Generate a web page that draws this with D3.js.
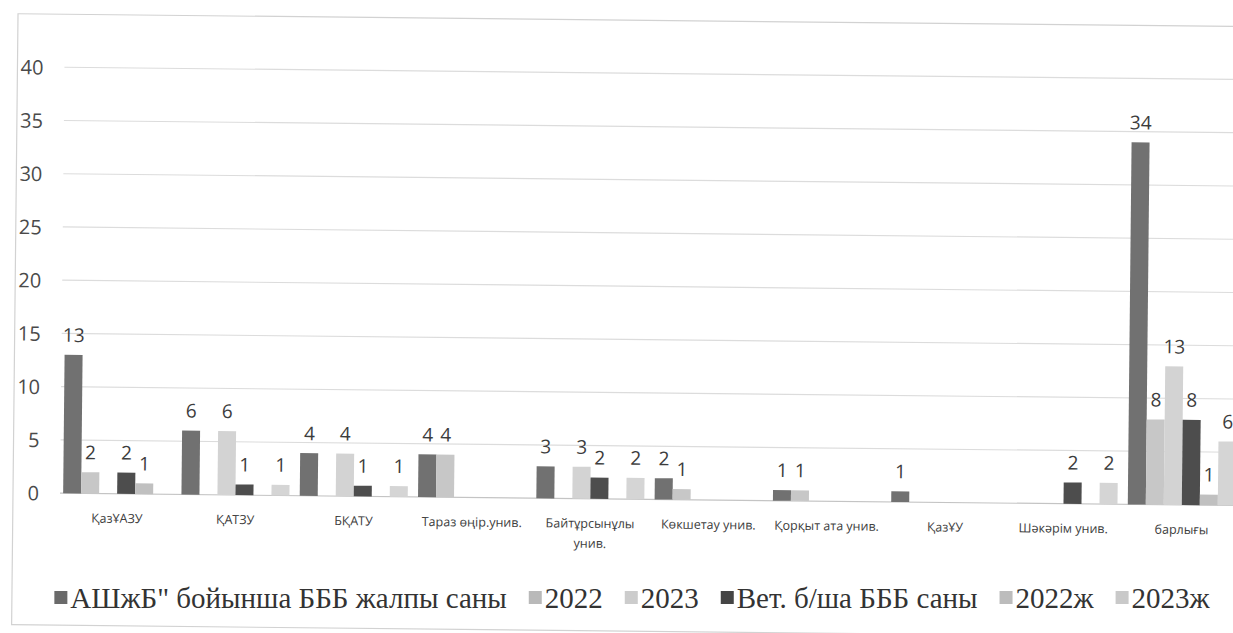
<!DOCTYPE html>
<html>
<head>
<meta charset="utf-8">
<script src="https://cdn.jsdelivr.net/npm/d3@7"></script>
<style>
  html, body { margin: 0; padding: 0; background: #ffffff; }
  svg { display: block; }
  .legend-text { font-family: "Liberation Serif", "Times New Roman", Times, "DejaVu Serif", serif; font-size: 29px; }
</style>
</head>
<body>
<svg id="chart" width="1233" height="633"></svg>
<script>
// ---- data ----
const categories = ["ҚазҰАЗУ", "ҚАТЗУ", "БҚАТУ", "Тараз өңір.унив.", "Байтұрсынұлы унив.",
  "Көкшетау унив.", "Қорқыт ата унив.", "ҚазҰУ", "Шәкәрім унив.", "барлығы"];
const seriesNames = ["АШжБ\" бойынша БББ жалпы саны", "2022", "2023", "Вет. б/ша БББ саны", "2022ж", "2023ж"];
const totalAll   = [13, 6, 4, 4, 3, 2, 1, 1, 0, 34];
const y2022      = [2, 0, 0, 4, 0, 1, 1, 0, 0, 8];
const y2023      = [0, 6, 4, 0, 3, 0, 0, 0, 0, 13];
const vetTotal   = [2, 1, 1, 0, 2, 0, 0, 0, 2, 8];
const vet2022    = [1, 0, 0, 0, 0, 0, 0, 0, 0, 1];
const vet2023    = [0, 1, 1, 0, 2, 0, 0, 0, 2, 6];
const yTicks     = [0, 5, 10, 15, 20, 25, 30, 35, 40];

const seriesValues = [totalAll, y2022, y2023, vetTotal, vet2022, vet2023];
const colors = ["#717171", "#c7c7c7", "#d3d3d3", "#4d4d4d", "#c0c0c0", "#d5d5d5"];
const legendColors = ["#6a6a6a", "#b9b9b9", "#cccccc", "#454545", "#bcbcbc", "#c9c9c9"];

// ---- layout ----
const svg = d3.select("#chart");
const W = 1233, H = 633;
svg.append("rect").attr("width", W).attr("height", H).attr("fill", "#ffffff");

const plot = svg.append("g").attr("transform", "rotate(0.6, 40, 493)");

// chart frame
plot.append("rect")
  .attr("x", 13).attr("y", 14).attr("width", 1250).attr("height", 611)
  .attr("fill", "none").attr("stroke", "#d2d2d2").attr("stroke-width", 1.2);

const x0 = d3.scaleBand().domain(categories).range([58, 1241])
  .paddingInner(0.087).paddingOuter(0.0435);
const x1 = d3.scaleBand().domain(d3.range(seriesNames.length)).range([0, x0.bandwidth()]);
const y = d3.scaleLinear().domain([0, 40]).range([493, 67]);

// gridlines
plot.append("g").selectAll("line").data(yTicks).join("line")
  .attr("x1", 60).attr("x2", 1260)
  .attr("y1", d => y(d)).attr("y2", d => y(d))
  .attr("stroke", d => d === 0 ? "#c4c4c4" : "#dcdcdc")
  .attr("stroke-width", 1.2);

// y axis labels
const yAxis = d3.axisLeft(y).tickValues(yTicks).tickSize(0).tickPadding(0);
const gy = plot.append("g").attr("transform", "translate(39,0)").call(yAxis);
gy.select(".domain").remove();
gy.selectAll("text")
  .attr("font-family", "'Open Sans', sans-serif")
  .attr("font-size", 20)
  .attr("fill", "#4a4a4a")
  .attr("dy", "0.35em");

// bars
const groups = plot.append("g").selectAll("g").data(categories).join("g")
  .attr("transform", d => `translate(${x0(d)},0)`);

groups.selectAll("rect")
  .data((c, ci) => seriesValues.map((vals, si) => ({ si, v: vals[ci] })))
  .join("rect")
  .attr("x", d => x1(d.si))
  .attr("width", x1.bandwidth())
  .attr("y", d => y(d.v))
  .attr("height", d => y(0) - y(d.v))
  .attr("fill", d => colors[d.si]);

groups.selectAll("text.lbl")
  .data((c, ci) => seriesValues.map((vals, si) => ({ si, v: vals[ci] })).filter(d => d.v > 0))
  .join("text")
  .attr("class", "lbl")
  .attr("x", d => x1(d.si) + x1.bandwidth() / 2)
  .attr("y", d => y(d.v) - 13)
  .attr("text-anchor", "middle")
  .attr("font-family", "'Open Sans', sans-serif")
  .attr("font-size", 19)
  .attr("fill", "#3c3c3c")
  .text(d => d.v);

// x axis category labels
const xAxis = d3.axisBottom(x0).tickSize(0).tickPadding(0);
const gx = plot.append("g").attr("transform", "translate(0,493)").call(xAxis);
gx.select(".domain").remove();
gx.selectAll("text")
  .attr("font-family", "'Open Sans', sans-serif")
  .attr("font-size", 12.5)
  .attr("fill", "#404040")
  .attr("y", 29)
  .attr("dy", 0)
  .each(function () {
    const t = d3.select(this);
    const words = t.text().split(" ");
    const maxW = 116;
    t.text(null);
    let line = [];
    let lineNo = 0;
    let tspan = t.append("tspan").attr("x", 0).attr("y", 29);
    words.forEach(w => {
      line.push(w);
      tspan.text(line.join(" "));
      if (tspan.node().getComputedTextLength() > maxW && line.length > 1) {
        line.pop();
        tspan.text(line.join(" "));
        line = [w];
        lineNo++;
        tspan = t.append("tspan").attr("x", 0).attr("y", 29 + lineNo * 20).text(w);
      }
    });
  });

// legend
const legend = svg.append("g");
let lx = 0;
seriesNames.forEach((name, i) => {
  const g = legend.append("g");
  g.append("rect").attr("x", 0).attr("y", -17).attr("width", 13).attr("height", 13)
    .attr("fill", legendColors[i]);
  const t = g.append("text").attr("class", "legend-text").attr("x", 16).attr("y", 0)
    .attr("fill", "#333333")
    .text(name);
  const w = 16 + t.node().getComputedTextLength();
  g.attr("transform", `translate(${lx},0)`);
  lx += w + 22;
});
const totalW = lx - 22;
legend.attr("transform", `translate(${632 - totalW / 2},608)`);
</script>
</body>
</html>
